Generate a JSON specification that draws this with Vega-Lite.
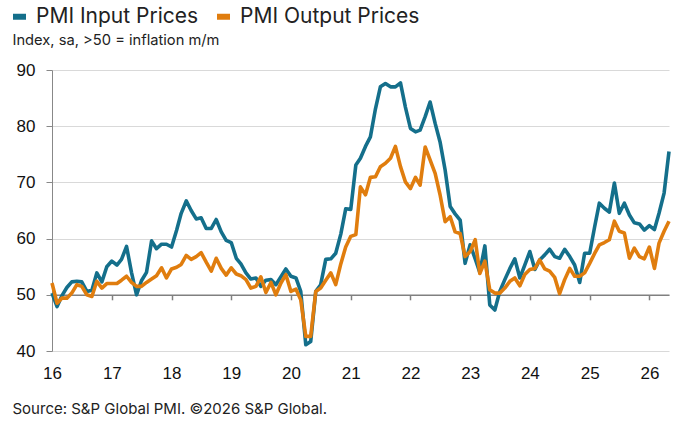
{
  "$schema": "https://vega.github.io/schema/vega-lite/v6.json",
  "width": 617,
  "height": 281,
  "autosize": {"type": "none"},
  "padding": {"left": 52, "top": 70, "right": 11, "bottom": 76},
  "background": "white",
  "data": {
    "values": [
      {"d": "2016-01-01", "i": 50.3, "o": 52.1}, {"d": "2016-02-01", "i": 47.9, "o": 48.5},
      {"d": "2016-03-01", "i": 49.8, "o": 49.4}, {"d": "2016-04-01", "i": 51.3, "o": 49.4},
      {"d": "2016-05-01", "i": 52.3, "o": 50.3}, {"d": "2016-06-01", "i": 52.4, "o": 51.8},
      {"d": "2016-07-01", "i": 52.3, "o": 51.5}, {"d": "2016-08-01", "i": 50.6, "o": 50.0},
      {"d": "2016-09-01", "i": 50.8, "o": 49.7}, {"d": "2016-10-01", "i": 53.9, "o": 52.4},
      {"d": "2016-11-01", "i": 52.3, "o": 51.2}, {"d": "2016-12-01", "i": 55.0, "o": 52.0},
      {"d": "2017-01-01", "i": 56.0, "o": 52.0}, {"d": "2017-02-01", "i": 55.3, "o": 52.0},
      {"d": "2017-03-01", "i": 56.3, "o": 52.6}, {"d": "2017-04-01", "i": 58.6, "o": 53.3},
      {"d": "2017-05-01", "i": 54.0, "o": 52.2}, {"d": "2017-06-01", "i": 50.0, "o": 51.5},
      {"d": "2017-07-01", "i": 52.5, "o": 51.5}, {"d": "2017-08-01", "i": 54.0, "o": 52.2},
      {"d": "2017-09-01", "i": 59.6, "o": 52.8}, {"d": "2017-10-01", "i": 58.2, "o": 53.4},
      {"d": "2017-11-01", "i": 59.0, "o": 54.8}, {"d": "2017-12-01", "i": 59.0, "o": 53.0},
      {"d": "2018-01-01", "i": 58.5, "o": 54.6}, {"d": "2018-02-01", "i": 61.5, "o": 54.9},
      {"d": "2018-03-01", "i": 64.5, "o": 55.4}, {"d": "2018-04-01", "i": 66.7, "o": 57.0},
      {"d": "2018-05-01", "i": 65.0, "o": 56.3}, {"d": "2018-06-01", "i": 63.5, "o": 56.8},
      {"d": "2018-07-01", "i": 63.7, "o": 57.5}, {"d": "2018-08-01", "i": 61.8, "o": 55.8},
      {"d": "2018-09-01", "i": 61.8, "o": 54.2}, {"d": "2018-10-01", "i": 63.4, "o": 56.5},
      {"d": "2018-11-01", "i": 61.2, "o": 54.7}, {"d": "2018-12-01", "i": 59.7, "o": 53.5},
      {"d": "2019-01-01", "i": 59.3, "o": 54.8}, {"d": "2019-02-01", "i": 56.5, "o": 53.7},
      {"d": "2019-03-01", "i": 55.5, "o": 53.4}, {"d": "2019-04-01", "i": 53.9, "o": 52.7},
      {"d": "2019-05-01", "i": 52.8, "o": 51.2}, {"d": "2019-06-01", "i": 53.0, "o": 51.5},
      {"d": "2019-07-01", "i": 51.5, "o": 53.2}, {"d": "2019-08-01", "i": 52.6, "o": 50.4},
      {"d": "2019-09-01", "i": 52.7, "o": 52.2}, {"d": "2019-10-01", "i": 51.8, "o": 50.0},
      {"d": "2019-11-01", "i": 53.2, "o": 52.1}, {"d": "2019-12-01", "i": 54.6, "o": 53.6},
      {"d": "2020-01-01", "i": 53.3, "o": 50.6}, {"d": "2020-02-01", "i": 53.0, "o": 51.0},
      {"d": "2020-03-01", "i": 50.6, "o": 49.1}, {"d": "2020-04-01", "i": 41.1, "o": 42.6},
      {"d": "2020-05-01", "i": 41.7, "o": 42.6}, {"d": "2020-06-01", "i": 50.6, "o": 50.6},
      {"d": "2020-07-01", "i": 51.8, "o": 51.2}, {"d": "2020-08-01", "i": 56.3, "o": 52.6},
      {"d": "2020-09-01", "i": 56.4, "o": 53.9}, {"d": "2020-10-01", "i": 57.4, "o": 51.8},
      {"d": "2020-11-01", "i": 60.8, "o": 55.5}, {"d": "2020-12-01", "i": 65.3, "o": 58.5},
      {"d": "2021-01-01", "i": 65.2, "o": 60.4}, {"d": "2021-02-01", "i": 73.1, "o": 60.7},
      {"d": "2021-03-01", "i": 74.3, "o": 69.2}, {"d": "2021-04-01", "i": 76.4, "o": 67.8},
      {"d": "2021-05-01", "i": 78.1, "o": 70.9}, {"d": "2021-06-01", "i": 83.1, "o": 71.0},
      {"d": "2021-07-01", "i": 87.0, "o": 72.8}, {"d": "2021-08-01", "i": 87.6, "o": 73.4},
      {"d": "2021-09-01", "i": 87.0, "o": 74.3}, {"d": "2021-10-01", "i": 87.0, "o": 76.4},
      {"d": "2021-11-01", "i": 87.7, "o": 72.8}, {"d": "2021-12-01", "i": 83.4, "o": 70.1},
      {"d": "2022-01-01", "i": 79.6, "o": 68.9}, {"d": "2022-02-01", "i": 79.0, "o": 70.9},
      {"d": "2022-03-01", "i": 79.3, "o": 69.5}, {"d": "2022-04-01", "i": 81.7, "o": 76.3},
      {"d": "2022-05-01", "i": 84.3, "o": 74.0}, {"d": "2022-06-01", "i": 80.5, "o": 71.6},
      {"d": "2022-07-01", "i": 77.2, "o": 67.8}, {"d": "2022-08-01", "i": 72.2, "o": 63.0},
      {"d": "2022-09-01", "i": 65.7, "o": 63.9}, {"d": "2022-10-01", "i": 64.4, "o": 61.2},
      {"d": "2022-11-01", "i": 63.3, "o": 60.9}, {"d": "2022-12-01", "i": 55.6, "o": 56.8},
      {"d": "2023-01-01", "i": 58.9, "o": 57.7}, {"d": "2023-02-01", "i": 56.4, "o": 59.8},
      {"d": "2023-03-01", "i": 54.0, "o": 53.8}, {"d": "2023-04-01", "i": 58.7, "o": 56.0},
      {"d": "2023-05-01", "i": 48.2, "o": 50.9}, {"d": "2023-06-01", "i": 47.3, "o": 50.3},
      {"d": "2023-07-01", "i": 50.6, "o": 50.3}, {"d": "2023-08-01", "i": 52.7, "o": 51.2},
      {"d": "2023-09-01", "i": 54.7, "o": 52.4}, {"d": "2023-10-01", "i": 56.4, "o": 53.0},
      {"d": "2023-11-01", "i": 53.0, "o": 51.6}, {"d": "2023-12-01", "i": 55.3, "o": 53.6},
      {"d": "2024-01-01", "i": 57.7, "o": 54.5}, {"d": "2024-02-01", "i": 54.5, "o": 54.7},
      {"d": "2024-03-01", "i": 56.2, "o": 56.2}, {"d": "2024-04-01", "i": 57.1, "o": 54.6},
      {"d": "2024-05-01", "i": 58.1, "o": 54.2}, {"d": "2024-06-01", "i": 56.8, "o": 53.1},
      {"d": "2024-07-01", "i": 56.5, "o": 50.2}, {"d": "2024-08-01", "i": 58.1, "o": 52.7},
      {"d": "2024-09-01", "i": 56.8, "o": 54.7}, {"d": "2024-10-01", "i": 55.3, "o": 53.3},
      {"d": "2024-11-01", "i": 52.2, "o": 53.3}, {"d": "2024-12-01", "i": 57.4, "o": 53.9},
      {"d": "2025-01-01", "i": 57.4, "o": 55.6}, {"d": "2025-02-01", "i": 62.2, "o": 57.4},
      {"d": "2025-03-01", "i": 66.3, "o": 58.9}, {"d": "2025-04-01", "i": 65.4, "o": 59.3},
      {"d": "2025-05-01", "i": 64.7, "o": 59.8}, {"d": "2025-06-01", "i": 69.9, "o": 63.1},
      {"d": "2025-07-01", "i": 64.5, "o": 61.3}, {"d": "2025-08-01", "i": 66.3, "o": 61.0},
      {"d": "2025-09-01", "i": 64.2, "o": 56.5}, {"d": "2025-10-01", "i": 62.8, "o": 58.3},
      {"d": "2025-11-01", "i": 62.6, "o": 56.8}, {"d": "2025-12-01", "i": 61.5, "o": 56.4},
      {"d": "2026-01-01", "i": 62.3, "o": 58.5}, {"d": "2026-02-01", "i": 61.6, "o": 54.7},
      {"d": "2026-03-01", "i": 64.5, "o": 59.2}, {"d": "2026-04-01", "i": 68.1, "o": 61.3},
      {"d": "2026-05-01", "i": 75.5, "o": 63.1}
    ]
  },
  "layer": [
    {
      "mark": {"type": "line", "strokeWidth": 3.6, "strokeJoin": "round"},
      "encoding": {
        "x": {
          "field": "d",
          "type": "temporal",
          "scale": {"type": "utc", "domain": [{"year": 2016, "month": 1, "date": 1, "utc": true}, {"year": 2026, "month": 5, "date": 1, "utc": true}]},
          "axis": {
            "orient": "bottom",
            "values": [
              {"year": 2016, "month": 1, "date": 1, "utc": true}, {"year": 2017, "month": 1, "date": 1, "utc": true},
              {"year": 2018, "month": 1, "date": 1, "utc": true}, {"year": 2019, "month": 1, "date": 1, "utc": true},
              {"year": 2020, "month": 1, "date": 1, "utc": true}, {"year": 2021, "month": 1, "date": 1, "utc": true},
              {"year": 2022, "month": 1, "date": 1, "utc": true}, {"year": 2023, "month": 1, "date": 1, "utc": true},
              {"year": 2024, "month": 1, "date": 1, "utc": true}, {"year": 2025, "month": 1, "date": 1, "utc": true},
              {"year": 2026, "month": 1, "date": 1, "utc": true}
            ],
            "format": "%y",
            "domain": false,
            "ticks": false,
            "tickSize": 0,
            "grid": false,
            "labelPadding": 14,
            "labelFont": "Liberation Sans",
            "labelFontSize": 17,
            "labelColor": "#111111",
            "labelFlush": false,
            "labelOverlap": false,
            "title": "Source: S&P Global PMI. ©2026 S&P Global.",
            "titleAnchor": "start",
            "titleAlign": "left",
            "titleBaseline": "middle",
            "titleX": -40,
            "titleY": 57,
            "titleFont": "Inter",
            "titleFontSize": 15,
            "titleFontWeight": "normal",
            "titleColor": "#222222"
          }
        },
        "y": {
          "field": "i",
          "type": "quantitative",
          "scale": {"domain": [40, 90], "nice": false, "zero": false},
          "axis": {
            "values": [40, 50, 60, 70, 80, 90],
            "title": "Index, sa, >50 = inflation m/m",
            "titleAngle": 0,
            "titleAnchor": "start",
            "titleAlign": "left",
            "titleBaseline": "middle",
            "titleX": -40,
            "titleY": -30,
            "titleFont": "Inter",
            "titleFontSize": 14.7,
            "titleFontWeight": "normal",
            "titleColor": "#222222",
            "domain": true,
            "domainColor": "#888888",
            "ticks": true,
            "tickSize": 6,
            "tickColor": "#888888",
            "grid": true,
            "gridColor": "#d9d9d9",
            "labelPadding": 11,
            "labelFont": "Liberation Sans",
            "labelFontSize": 17,
            "labelColor": "#111111"
          }
        },
        "color": {
          "datum": "PMI Input Prices",
          "scale": {"domain": ["PMI Input Prices", "PMI Output Prices"], "range": ["#146f8b", "#e07d0e"]},
          "legend": {
            "title": null,
            "orient": "none",
            "direction": "horizontal",
            "legendX": -43,
            "legendY": -64,
            "symbolType": "stroke",
            "symbolSize": 169,
            "symbolStrokeWidth": 6,
            "labelFont": "Inter",
            "labelFontSize": 21,
            "labelLimit": 400,
            "labelColor": "#222222",
            "labelOffset": 6,
            "columnPadding": 6
          }
        }
      }
    },
    {
      "mark": {"type": "line", "strokeWidth": 3.6, "strokeJoin": "round"},
      "encoding": {
        "x": {
          "field": "d",
          "type": "temporal",
          "axis": {
            "orient": "bottom",
            "offset": -56.2,
            "values": [
              {"year": 2017, "month": 1, "date": 1, "utc": true}, {"year": 2018, "month": 1, "date": 1, "utc": true},
              {"year": 2019, "month": 1, "date": 1, "utc": true}, {"year": 2020, "month": 1, "date": 1, "utc": true},
              {"year": 2021, "month": 1, "date": 1, "utc": true}, {"year": 2022, "month": 1, "date": 1, "utc": true},
              {"year": 2023, "month": 1, "date": 1, "utc": true}, {"year": 2024, "month": 1, "date": 1, "utc": true},
              {"year": 2025, "month": 1, "date": 1, "utc": true}, {"year": 2026, "month": 1, "date": 1, "utc": true}
            ],
            "labels": false,
            "domain": true,
            "domainColor": "#808080",
            "domainWidth": 1.5,
            "ticks": true,
            "tickSize": 5,
            "tickWidth": 1.5,
            "tickColor": "#808080",
            "grid": false,
            "title": null
          }
        },
        "y": {"field": "o", "type": "quantitative"},
        "color": {"datum": "PMI Output Prices"}
      }
    }
  ],
  "resolve": {"axis": {"x": "independent"}},
  "config": {
    "view": {"stroke": null}
  }
}
